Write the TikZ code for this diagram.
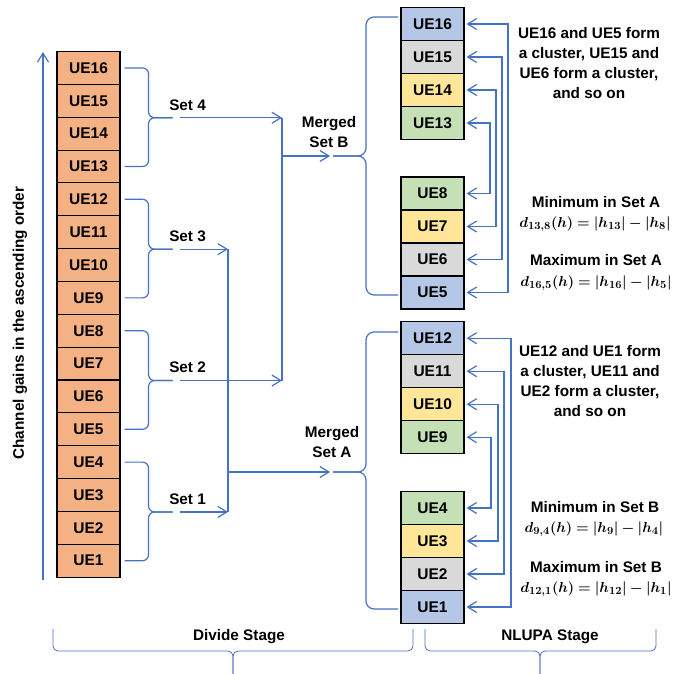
\documentclass[tikz,border=0pt]{standalone}
\usepackage{fontspec}
\usepackage{bm}
\setmainfont{Liberation Sans}
\usetikzlibrary{arrows.meta,calc}
\definecolor{lb}{HTML}{4472C4}
\definecolor{cOra}{HTML}{F4B183}
\definecolor{cBlu}{HTML}{B4C7E7}
\definecolor{cGry}{HTML}{D9D9D9}
\definecolor{cYel}{HTML}{FFE699}
\definecolor{cGrn}{HTML}{C5E0B4}
\begin{document}
\begin{tikzpicture}[x=1pt,y={(0,-1pt)},
  ue/.style={draw=black,line width=1.1pt,minimum width=63pt,minimum height=32.85pt,inner sep=0pt,font=\fontsize{15.5}{18}\selectfont\bfseries},
  conn/.style={draw=lb,line width=1.2pt},
  barb/.tip={Straight Barb[length=9pt,width=11pt]},
  tip/.style={-barb},
  lbl/.style={font=\fontsize{15.3}{20}\selectfont\bfseries,align=center,inner sep=0pt},
  mth/.style={font=\fontsize{15.5}{20}\selectfont,inner sep=0pt}]
\useasboundingbox (0,0) rectangle (697,673);
% left column
\foreach \i in {1,...,16} {
  \node[ue,fill=cOra] (L\i) at (88.5,{51.5+(16.5-\i)*32.85}) {UE\i};
}
\node[lbl,rotate=90] (ylab) at (20,323) {Channel gains in the ascending order};
\coordinate (abot) at (43,580);
\coordinate (atop) at (43,52);
\draw[conn,tip] (abot) -- (atop);
% set braces
\foreach \k in {1,2,3,4} {
  \pgfmathtruncatemacro{\t}{4*\k}
  \pgfmathtruncatemacro{\m}{4*\k-1}
  \pgfmathtruncatemacro{\b}{4*\k-3}
  \coordinate (S\k) at ($(L\m.south east)+(52,0)$);
  \draw[conn,rounded corners=6pt] ([xshift=4pt]L\t.east) -| ($(S\k)+(-24,0)$) -- (S\k);
  \draw[conn,rounded corners=6pt] ([xshift=4pt]L\b.east) -| ($(S\k)+(-24,0)$) -- (S\k);
  \node[lbl] (setlbl\k) at ($(S\k)+(15,-13)$) {Set \k};
}
\coordinate (JB) at (282,0);
\coordinate (JA) at (228,0);
\draw[conn,tip] ($(S4)+(7,0)$) -- (S4 -| JB);
\draw[conn,tip] ($(S2)+(7,0)$) -- (S2 -| JB);
\draw[conn,tip] ($(S3)+(7,0)$) -- (S3 -| JA);
\draw[conn,tip] ($(S1)+(7,0)$) -- (S1 -| JA);
\draw[conn] (S4 -| JB) -- (S2 -| JB);
\draw[conn] (S3 -| JA) -- (S1 -| JA);
\coordinate (MB) at (330,156);
\coordinate (MA) at (330,472);
\draw[conn,tip] (MB -| JB) -- (MB);
\draw[conn,tip] (MA -| JA) -- (MA);
\node[lbl] (mbl) at (329,132) {Merged\\Set B};
\node[lbl] (mal) at (332,442) {Merged\\Set A};
% right column
\foreach \i/\y/\c in {16/24/cBlu,15/57/cGry,14/90/cYel,13/123/cGrn,8/193.5/cGrn,7/226.5/cYel,6/259.5/cGry,5/292.5/cBlu,12/338.2/cBlu,11/371.2/cGry,10/404.2/cYel,9/437.2/cGrn,4/508/cGrn,3/541/cYel,2/574/cGry,1/607/cBlu} {
  \node[ue,fill=\c,minimum height=33pt] (R\i) at (432.5,\y) {UE\i};
}
% merged braces
\coordinate (TB) at (333,156);
\coordinate (TBt) at (398,17);
\coordinate (TBb) at (398,295);
\draw[conn,rounded corners=8pt] (TB) -| (366,17) -- (TBt);
\draw[conn,rounded corners=8pt] (TB) -| (366,295) -- (TBb);
\coordinate (TA) at (333,472);
\coordinate (TAt) at (398,332);
\coordinate (TAb) at (398,609);
\draw[conn,rounded corners=8pt] (TA) -| (366,332) -- (TAt);
\draw[conn,rounded corners=8pt] (TA) -| (366,609) -- (TAb);
% cluster connectors
\foreach \a/\b/\x in {16/5/508,15/6/502,14/7/496,13/8/490,12/1/511,11/2/504,10/3/498,9/4/491} {
  \coordinate (K\a) at (\x,0);
  \draw[conn,barb-barb] ([xshift=2pt]R\a.east) -- (R\a.east -| K\a) -- (R\b.east -| K\a) -- ([xshift=2pt]R\b.east);
}
% texts
\node[lbl] (tB) at (589,63) {UE16 and UE5 form\\a cluster, UE15 and\\UE6 form a cluster,\\and so on};
\node[lbl] (minA) at (596,202) {Minimum in Set A};
\node[mth] (fminA) at (595,224) {$\bm{d_{13,8}(h) = |h_{13}| - |h_8|}$};
\node[lbl] (maxA) at (596,260) {Maximum in Set A};
\node[mth] (fmaxA) at (596,283) {$\bm{d_{16,5}(h) = |h_{16}| - |h_5|}$};
\node[lbl] (tA) at (590,381) {UE12 and UE1 form\\a cluster, UE11 and\\UE2 form a cluster,\\and so on};
\node[lbl] (minB) at (595,507) {Minimum in Set B};
\node[mth] (fminB) at (594,529) {$\bm{d_{9,4}(h) = |h_{9}| - |h_4|}$};
\node[lbl] (maxB) at (596,567) {Maximum in Set B};
\node[mth] (fmaxB) at (596,589) {$\bm{d_{12,1}(h) = |h_{12}| - |h_1|}$};
% stage braces
\coordinate (dL) at (53,629);
\coordinate (dR) at (413,629);
\coordinate (dM) at (233,651);
\coordinate (dT) at (233,680);
\draw[draw=lb,line width=0.8pt,rounded corners=5pt] (dL) |- (dM) -- (dT);
\draw[draw=lb,line width=0.8pt,rounded corners=5pt] (dR) |- (dM) -- (dT);
\coordinate (nL) at (425,629);
\coordinate (nR) at (656,629);
\coordinate (nM) at (540,651);
\coordinate (nT) at (540,680);
\draw[draw=lb,line width=0.8pt,rounded corners=5pt] (nL) |- (nM) -- (nT);
\draw[draw=lb,line width=0.8pt,rounded corners=5pt] (nR) |- (nM) -- (nT);
\node[lbl] (dlab) at (239,637) {Divide Stage};
\node[lbl] (nlab) at (550,637) {NLUPA Stage};
\end{tikzpicture}
\end{document}
